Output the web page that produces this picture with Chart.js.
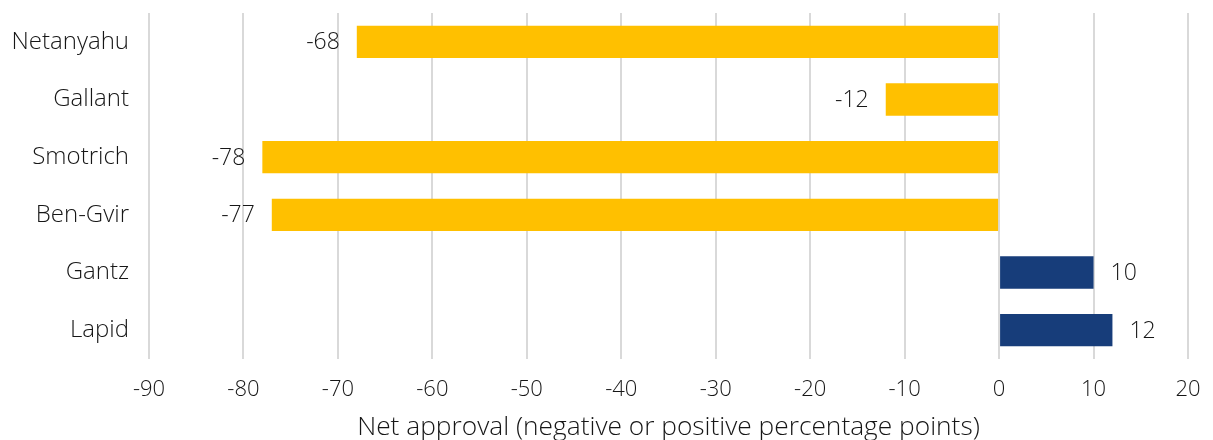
<!DOCTYPE html>
<html>
<head>
<meta charset="utf-8">
<script src="https://cdn.jsdelivr.net/npm/chart.js@4"></script>
<style>
  html, body { margin: 0; padding: 0; background: #fff; }
  #wrap { width: 1213px; height: 440px; }
</style>
</head>
<body>
<div id="wrap"><canvas id="approvalChart" width="1213" height="440"></canvas></div>
<script>
// Net approval ratings per politician
const politicians = ['Netanyahu', 'Gallant', 'Smotrich', 'Ben-Gvir', 'Gantz', 'Lapid'];
const netApproval = [-68, -12, -78, -77, 10, 12];
const xTicks = [-90, -80, -70, -60, -50, -40, -30, -20, -10, 0, 10, 20];

const FONT = "'Open Sans', 'Noto Sans', sans-serif";
const TEXT = '#161616';

// Yellow for negative ratings, navy for positive
const barColors = netApproval.map(v => v < 0 ? '#FFC000' : '#173D7A');

// Writes each value just past the end of its bar
const valueLabels = {
    id: 'valueLabels',
    afterDatasetsDraw(chart) {
        const ctx = chart.ctx;
        const meta = chart.getDatasetMeta(0);
        ctx.save();
        ctx.font = `300 23px ${FONT}`;
        ctx.fillStyle = TEXT;
        ctx.textBaseline = 'middle';
        meta.data.forEach((bar, i) => {
            const v = netApproval[i];
            if (v < 0) {
                ctx.textAlign = 'right';
                ctx.fillText(String(v), bar.x - 17, bar.y + 1);
            } else {
                ctx.textAlign = 'left';
                ctx.fillText(String(v), bar.x + 17, bar.y + 1);
            }
        });
        ctx.restore();
    }
};

const ctx = document.getElementById('approvalChart').getContext('2d');
new Chart(ctx, {
    type: 'bar',
    data: {
        labels: politicians,
        datasets: [{
            data: netApproval,
            backgroundColor: barColors,
            borderWidth: 0,
            categoryPercentage: 1,
            barPercentage: 0.56
        }]
    },
    options: {
        indexAxis: 'y',
        responsive: false,
        animation: false,
        layout: { padding: { top: 13, right: 25, bottom: 0, left: 0 } },
        plugins: {
            legend: { display: false },
            tooltip: { enabled: false }
        },
        scales: {
            x: {
                min: -90,
                max: 20,
                afterBuildTicks(axis) {
                    axis.ticks = xTicks.map(v => ({ value: v }));
                },
                grid: { color: '#D9D9D9', lineWidth: 2, drawTicks: false },
                border: { display: false },
                ticks: {
                    color: TEXT,
                    font: { family: FONT, size: 22, weight: '300' },
                    padding: 18,
                    maxRotation: 0
                },
                title: {
                    display: true,
                    text: 'Net approval (negative or positive percentage points)',
                    color: TEXT,
                    font: { family: FONT, size: 26.3, weight: '300' },
                    padding: { top: 7, bottom: -3 }
                },
                afterFit(axis) {
                    axis.height = 81;
                    axis.paddingLeft = 0;
                    axis.paddingRight = 0;
                }
            },
            y: {
                grid: { display: false, drawTicks: false },
                border: { display: false },
                ticks: {
                    color: TEXT,
                    font: { family: FONT, size: 24, weight: '300' },
                    padding: 20
                },
                afterFit(axis) {
                    axis.width = 149;
                    axis.paddingTop = 0;
                    axis.paddingBottom = 0;
                }
            }
        }
    },
    plugins: [valueLabels]
});
</script>
</body>
</html>
